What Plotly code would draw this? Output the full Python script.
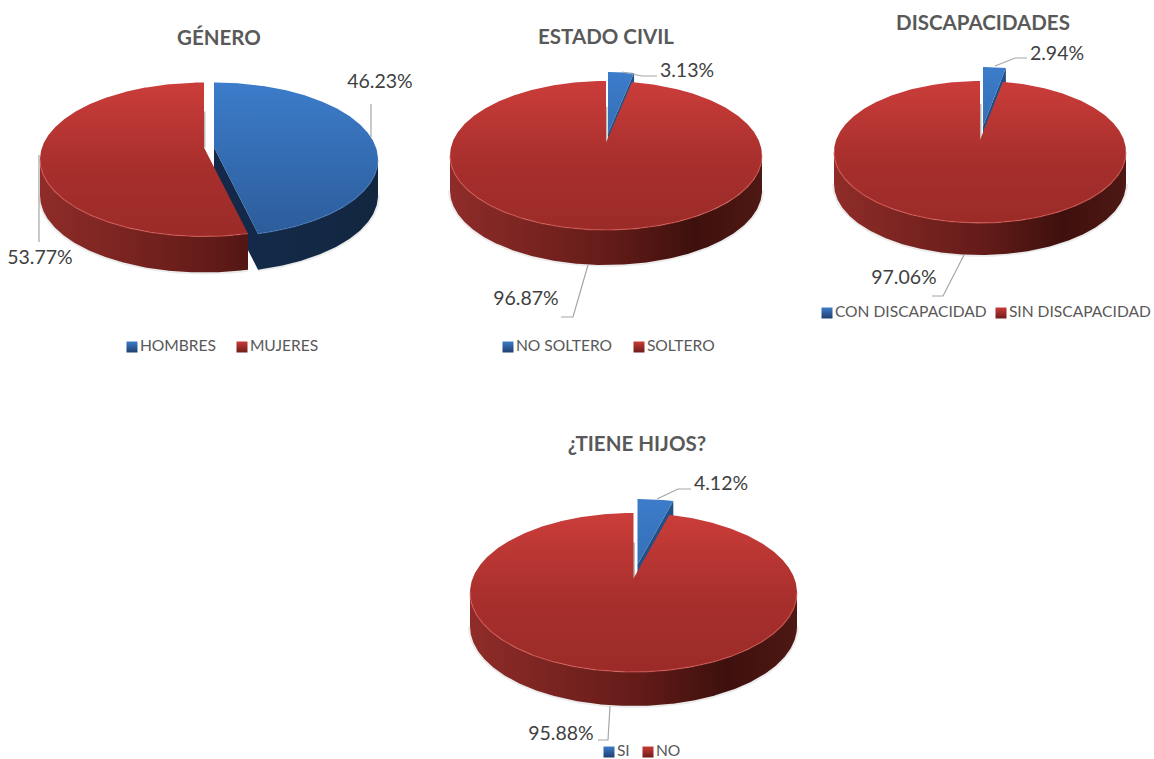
import math
import plotly.graph_objects as go

# ---- data ----
titles = ["GÉNERO", "ESTADO CIVIL", "DISCAPACIDADES", "¿TIENE HIJOS?"]
categories = [["HOMBRES", "MUJERES"], ["NO SOLTERO", "SOLTERO"],
              ["CON DISCAPACIDAD", "SIN DISCAPACIDAD"], ["SI", "NO"]]
blue_values = [46.23, 3.13, 2.94, 4.12]
red_values = [53.77, 96.87, 97.06, 95.88]

# ---- layout of each pie, in figure pixels ----
#        cx     cy     rx     ry    wall  vertex-up  blue dx dy
GEOM = [(204.0, 159.5, 164.0, 77.0, 36.0, 12.0, 10.0, 0.0),
        (606.0, 155.5, 156.0, 74.5, 35.0, 13.0, 2.0, -9.0),
        (980.0, 152.0, 146.0, 71.0, 32.0, 12.0, 3.0, -14.0),
        (633.5, 592.5, 163.5, 79.5, 34.0, 14.0, 4.0, -14.0)]
TILT_DEG = 8.5  # perspective shift of a true pie angle onto the tilted ellipse
TITLE_POS = [(219, 40), (606, 39), (983, 25), (637, 446)]
BLUE_LABEL = [(380, 83), (687, 72), (1057, 55), (721, 485)]
RED_LABEL = [(40, 259), (526, 300), (904, 279), (561, 735)]
BLUE_LEADER = [[(371, 137), (371, 104)], [(622, 72), (642, 76), (657, 76)],
               [(995, 66), (1015, 58), (1027, 58)], [(657, 499), (678, 489), (691, 489)]]
RED_LEADER = [[(39, 155), (39, 242)], [(588, 265), (573, 317), (561, 317)],
              [(964, 255), (943, 296), (932, 296)], [(610, 706), (608, 740), (598, 740)]]
LEGEND_POS = [[(132, 347), (242, 347)], [(508, 347), (639, 347)],
              [(827, 313), (1001, 313)], [(609, 752), (648, 752)]]

FONT = "Lato, Carlito, Calibri, sans-serif"
RED_TOP = [[0, "#cb3d3a"], [0.55, "#a72f2c"], [1, "#9b2b28"]]
BLUE_TOP = [[0, "#3c7cca"], [1, "#2c5c9a"]]
RED_WALL = [[0, "#8f2c29"], [0.5, "#651c19"], [0.78, "#3e100d"], [1, "#4e1814"]]
BLUE_WALL = [[0, "#16305a"], [1, "#12263f"]]


def pt(cx, cy, rx, ry, deg):
    a = math.radians(deg)
    return cx + rx * math.sin(a), cy - ry * math.cos(a)


def arc(cx, cy, rx, ry, d0, d1):
    n = max(2, int(abs(d1 - d0) * 2))
    return [pt(cx, cy, rx, ry, d0 + (d1 - d0) * i / n) for i in range(n + 1)]


fig = go.Figure()


def poly(points, scale, kind, start, stop):
    xs = [p[0] for p in points] + [points[0][0]]
    ys = [p[1] for p in points] + [points[0][1]]
    fig.add_trace(go.Scatter(
        x=xs, y=ys, mode="lines", fill="toself",
        line=dict(width=0),
        fillgradient=dict(type=kind, colorscale=scale, start=start, stop=stop),
        hoverinfo="skip", showlegend=False))


def path(points, color, width):
    fig.add_trace(go.Scatter(
        x=[p[0] for p in points], y=[p[1] for p in points], mode="lines",
        line=dict(color=color, width=width), hoverinfo="skip", showlegend=False))


def slice3d(cx, cy, rx, ry, h, vup, d0, d1, top, wall, face_color):
    vx, vy = cx, cy - vup
    edge = arc(cx, cy, rx, ry, d0, d1)
    lo, hi = max(d0, 90), min(d1, 270)
    # cut face on the closing side of a slice that ends on the right half
    if d1 < 180:
        outer = pt(cx, cy, rx, ry, d1)
        face = [(vx, vy), outer, (outer[0], outer[1] + h), (vx, vy + h)]
        fig.add_trace(go.Scatter(
            x=[p[0] for p in face] + [vx], y=[p[1] for p in face] + [vy],
            mode="lines", fill="toself", fillcolor=face_color, line=dict(width=0),
            hoverinfo="skip", showlegend=False))
    if hi > lo:
        upper = arc(cx, cy, rx, ry, lo, hi)
        lower = [(x, y + h) for x, y in upper][::-1]
        path(lower, "rgba(90,90,90,0.12)", 4)
        poly(upper + lower, wall, "horizontal", cx - rx, cx + rx)
    poly([(vx, vy)] + edge, top, "vertical", cy - ry, cy + ry)
    if hi > lo:
        path(arc(cx, cy, rx, ry, lo, hi), "rgba(225,95,90,0.55)" if top is RED_TOP
             else "rgba(70,130,200,0.5)", 1.3)


for i, (cx, cy, rx, ry, h, vup, dx, dy) in enumerate(GEOM):
    true_angle = 360 * blue_values[i] / (blue_values[i] + red_values[i])
    split = true_angle - TILT_DEG * math.sin(math.radians(true_angle))
    # grey sliver visible in the gap beside the exploded slice
    path([(cx + 0.5, cy - vup), (cx + 0.5, cy - vup - 36)], "#bdbdbd", 2)
    face = "#234f86" if split < 90 else "#14294a"
    slice3d(cx + dx, cy + dy, rx, ry, h, vup, 0, split, BLUE_TOP, BLUE_WALL, face)
    slice3d(cx, cy, rx, ry, h, vup, split, 360, RED_TOP, RED_WALL, "#7a2220")

    path(BLUE_LEADER[i], "#a6a6a6", 1.2)
    path(RED_LEADER[i], "#a6a6a6", 1.2)

    fig.add_trace(go.Scatter(
        x=[BLUE_LABEL[i][0], RED_LABEL[i][0]], y=[BLUE_LABEL[i][1], RED_LABEL[i][1]],
        mode="text", text=[f"{blue_values[i]:.2f}%", f"{red_values[i]:.2f}%"],
        textposition="middle center", textfont=dict(family=FONT, size=19.5, color="#404040"),
        hoverinfo="skip", showlegend=False))
    fig.add_trace(go.Scatter(
        x=[TITLE_POS[i][0]], y=[TITLE_POS[i][1]], mode="text", text=[f"<b>{titles[i]}</b>"],
        textposition="middle center", textfont=dict(family=FONT, size=20.5, color="#595959"),
        hoverinfo="skip", showlegend=False))
    for (lx, ly), name, col, dark in zip(LEGEND_POS[i], categories[i],
                                         ["#3c7cca", "#c93b38"], ["#1f3f6e", "#6f1d1a"]):
        fig.add_trace(go.Scatter(
            x=[lx], y=[ly], mode="markers+text", text=[name], textposition="middle right",
            marker=dict(symbol="square", size=11, color=col,
                        gradient=dict(type="vertical", color=dark), line=dict(width=0)),
            textfont=dict(family=FONT, size=15.6, color="#595959"),
            hoverinfo="skip", showlegend=False))

fig.update_layout(
    width=1154, height=759, margin=dict(l=0, r=0, t=0, b=0),
    paper_bgcolor="white", plot_bgcolor="white", showlegend=False,
    xaxis=dict(range=[0, 1154], visible=False, fixedrange=True),
    yaxis=dict(range=[759, 0], visible=False, fixedrange=True),
)
fig.write_html("out.html", config={"displayModeBar": False},
               post_script="document.body.style.margin='0';document.body.style.overflow='hidden';")
